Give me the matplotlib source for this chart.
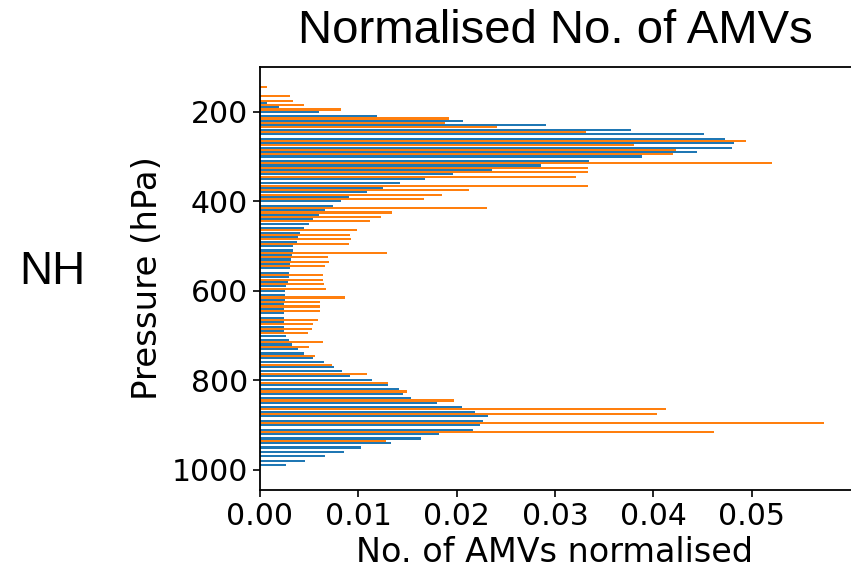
import matplotlib
matplotlib.use("Agg")
import matplotlib.pyplot as plt

# ---- data ----
blue_levels = [180, 190, 200, 210, 220, 230, 240, 250, 260, 270, 280, 290, 300,
               310, 320, 330, 340, 350, 360, 370, 380, 390, 400, 410, 420, 430,
               440, 450, 460, 470, 480, 490, 500, 510, 520, 530, 540, 550, 560,
               570, 580, 590, 600, 610, 620, 630, 640, 650, 660, 670, 680, 690,
               700, 710, 720, 730, 740, 750, 760, 770, 780, 790, 800, 810, 820,
               830, 840, 850, 860, 870, 880, 890, 900, 910, 920, 930, 940, 950,
               960, 970, 980, 990]
blue_values = [0.0007, 0.0019, 0.0060, 0.0119, 0.0206, 0.0291, 0.0377, 0.0452,
               0.0473, 0.0482, 0.0480, 0.0444, 0.0388, 0.0335, 0.0286, 0.0236,
               0.0196, 0.0168, 0.0142, 0.0125, 0.0109, 0.0091, 0.0082, 0.0074,
               0.0066, 0.0060, 0.0054, 0.0050, 0.0045, 0.0041, 0.0039, 0.0038,
               0.0034, 0.0034, 0.0033, 0.0032, 0.0030, 0.0030, 0.0029, 0.0029,
               0.0028, 0.0026, 0.0025, 0.0025, 0.0025, 0.0024, 0.0024, 0.0024,
               0.0024, 0.0024, 0.0024, 0.0024, 0.0026, 0.0029, 0.0033, 0.0039,
               0.0045, 0.0054, 0.0065, 0.0075, 0.0083, 0.0092, 0.0114, 0.0130,
               0.0141, 0.0145, 0.0154, 0.0180, 0.0205, 0.0219, 0.0232, 0.0227,
               0.0224, 0.0217, 0.0182, 0.0164, 0.0133, 0.0103, 0.0085, 0.0066,
               0.0046, 0.0026]

orange_levels = [145, 165, 175, 185, 195, 215, 225, 235, 245, 265, 275, 285, 295,
                 315, 325, 335, 345, 365, 375, 385, 395, 415, 425, 435, 445, 465,
                 475, 485, 495, 515, 525, 535, 545, 565, 575, 585, 595, 615, 625,
                 635, 645, 665, 675, 685, 695, 715, 725, 745, 765, 785, 805, 825,
                 845, 865, 875, 895, 915, 935]
orange_values = [0.0007, 0.0030, 0.0034, 0.0045, 0.0082, 0.0192, 0.0188, 0.0241,
                 0.0332, 0.0494, 0.0380, 0.0423, 0.0420, 0.0521, 0.0334, 0.0334,
                 0.0321, 0.0334, 0.0213, 0.0185, 0.0167, 0.0231, 0.0134, 0.0123,
                 0.0112, 0.0099, 0.0092, 0.0093, 0.0091, 0.0129, 0.0069, 0.0070,
                 0.0066, 0.0064, 0.0064, 0.0065, 0.0067, 0.0086, 0.0061, 0.0061,
                 0.0061, 0.0059, 0.0054, 0.0053, 0.0049, 0.0064, 0.0050, 0.0056,
                 0.0073, 0.0109, 0.0130, 0.0149, 0.0197, 0.0413, 0.0404, 0.0574,
                 0.0462, 0.0128]

x_ticks = [0.00, 0.01, 0.02, 0.03, 0.04, 0.05]
y_ticks = [200, 400, 600, 800, 1000]

W, H = 851, 570
fig = plt.figure(figsize=(W / 100, H / 100), dpi=100)
ax_left, ax_right, ax_top, ax_bottom = 260, 852, 67, 490
ax = fig.add_axes([ax_left / W, 1 - ax_bottom / H,
                   (ax_right - ax_left) / W, (ax_bottom - ax_top) / H])

bar_h = 4.6
ax.barh(blue_levels, blue_values, height=bar_h, color="#1f77b4")
ax.barh(orange_levels, orange_values, height=bar_h, color="#ff7f0e")

ax.set_xlim(0, 0.0602)
ax.set_ylim(1045, 100)
ax.set_xticks(x_ticks)
ax.set_xticklabels([f"{v:.2f}" for v in x_ticks])
ax.set_yticks(y_ticks)
ax.tick_params(axis="both", labelsize=21.5, length=5, width=1.2)
for s in ax.spines.values():
    s.set_linewidth(1.3)

ax.set_xlabel("No. of AMVs normalised", fontsize=24)
ax.set_ylabel("Pressure (hPa)", fontsize=24.5)
axw = ax_right - ax_left
axh = ax_bottom - ax_top
ax.xaxis.set_label_coords((555 - ax_left) / axw, (ax_bottom - 536) / axh)
ax.yaxis.set_label_coords((164 - ax_left) / axw, 0.5)

fig.text(555 / W, 1 - 31 / H, "Normalised No. of AMVs", ha="center", va="center",
         fontsize=34, family=["Liberation Sans", "DejaVu Sans"])
fig.text(52 / W, 1 - 272 / H, "NH", ha="center", va="center",
         fontsize=33, family=["Liberation Sans", "DejaVu Sans"])

fig.savefig("out.png", dpi=100)
